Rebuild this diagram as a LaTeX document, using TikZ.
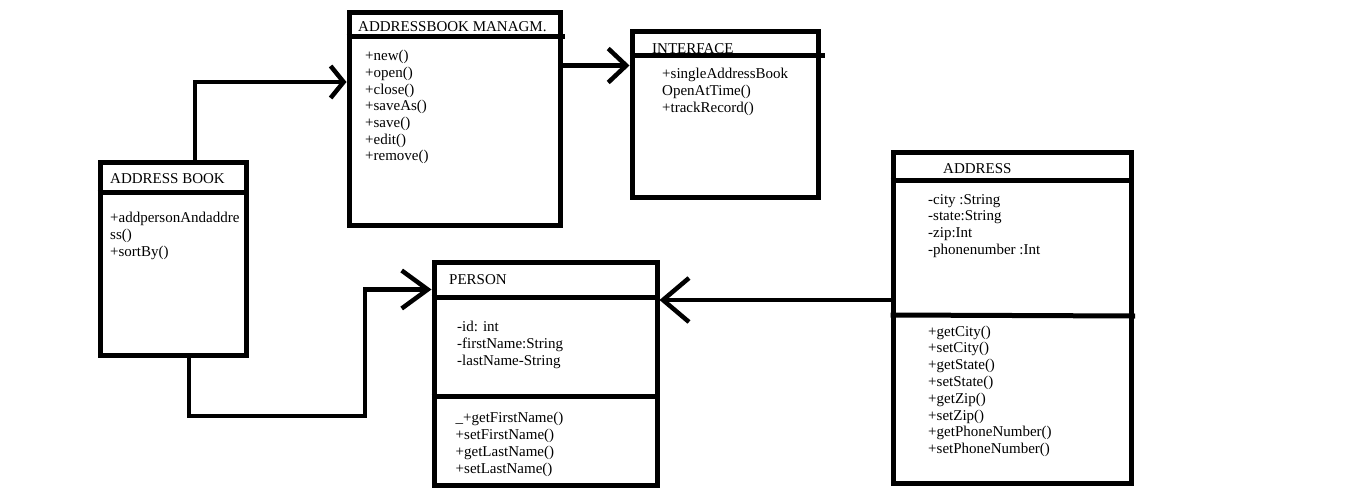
\documentclass[tikz,border=0pt]{standalone}
\usepackage{fontspec}
\setmainfont{Liberation Serif}
\usetikzlibrary{arrows.meta}
\tikzset{>={Straight Barb[length=20pt,width=36pt]}}

\begin{document}
\begin{tikzpicture}[x=1pt,y=-1pt,
    umlbox/.style={draw, line width=5pt, inner sep=0pt},
    sep/.style={line width=5pt},
    assoc/.style={->, line width=4.5pt},
    txt/.style={anchor=base west, inner sep=0pt, font=\fontsize{15}{17}\selectfont}]
  \useasboundingbox (0,0) rectangle (1360,503);

  % class boxes
  \node[umlbox, minimum width=146, minimum height=193] (book) at (173,258.5) {};
  \node[umlbox, minimum width=211, minimum height=212] (mgmt) at (454.5,119) {};
  \node[umlbox, minimum width=186, minimum height=165] (iface) at (725,114.5) {};
  \node[umlbox, minimum width=223, minimum height=223] (person) at (545.5,373.5) {};
  \node[umlbox, minimum width=238, minimum height=331] (address) at (1012,317.5) {};

  % compartments
  \draw[sep] (book.west |- 0,192) -- (book.east |- 0,192);
  \draw[sep] (mgmt.west |- 0,37) -- (565,37);
  \draw[sep] (iface.west |- 0,56) -- (825,56);
  \draw[sep] (person.west |- 0,297) -- (person.east |- 0,297);
  \draw[sep] (person.west |- 0,396) -- (person.east |- 0,396);
  \draw[sep] (address.west |- 0,180) -- (address.east |- 0,180);
  \draw[sep] (address.west |- 0,315) -- (1135,316);

  % titles
  \node[txt] (book-t) at (110,183) {ADDRESS BOOK};
  \node[txt] (mgmt-t) at (358,32) {ADDRESSBOOK MANAGM.};
  \node[txt] (iface-t) at (652,54) {INTERFACE};
  \node[txt] (person-t) at (449,284) {PERSON};
  \node[txt] (address-t) at (943,173) {ADDRESS};

  % members
  \foreach \t [count=\i] in {+addpersonAndaddre, ss(), +sortBy()}
    \node[txt] (book-\i) at (110,{205+17*\i}) {\t};
  \foreach \t [count=\i] in {+new(), +open(), +close(), +saveAs(), +save(), +edit(), +remove()}
    \node[txt] (mgmt-\i) at (365,{44.3+16.67*\i}) {\t};
  \foreach \t [count=\i] in {+singleAddressBook, OpenAtTime(), +trackRecord()}
    \node[txt] (iface-\i) at (662,{62.3+16.67*\i}) {\t};
  \foreach \t [count=\i] in {-id: int, -firstName:String, -lastName-String}
    \node[txt] (person-a\i) at (457,{314+17*\i}) {\t};
  \foreach \t [count=\i] in {\_+getFirstName(), +setFirstName(), +getLastName(), +setLastName()}
    \node[txt] (person-m\i) at (455.5,{405+17*\i}) {\t};
  \foreach \t [count=\i] in {-city :String, -state:String, -zip:Int, -phonenumber :Int}
    \node[txt] (address-a\i) at (928,{187.3+16.7*\i}) {\t};
  \foreach \t [count=\i] in {+getCity(), +setCity(), +getState(), +setState(), +getZip(), +setZip(), +getPhoneNumber(), +setPhoneNumber()}
    \node[txt] (address-m\i) at (928,{319.2+16.8*\i}) {\t};

  % associations
  \coordinate (m1) at ([yshift=53.5pt]mgmt.east);
  \coordinate (a1) at ([yshift=17.5pt]address.west);
  \coordinate (bend) at (365,416);
  \draw[assoc, -{Straight Barb[length=13pt,width=32pt]}] ([xshift=22pt]book.north) |- ([yshift=37pt]mgmt.west);
  \draw[assoc, -{Straight Barb[length=18pt,width=34pt]}] (m1) -- (m1 -| iface.west);
  \draw[assoc, -{Straight Barb[length=26pt,width=38pt]}] ([xshift=16pt]book.south) |- (bend) |- ([yshift=84pt]person.west);
  \draw[assoc, -{Straight Barb[length=26pt,width=44pt]}] (a1) -- (a1 -| person.east);
\end{tikzpicture}
\end{document}
